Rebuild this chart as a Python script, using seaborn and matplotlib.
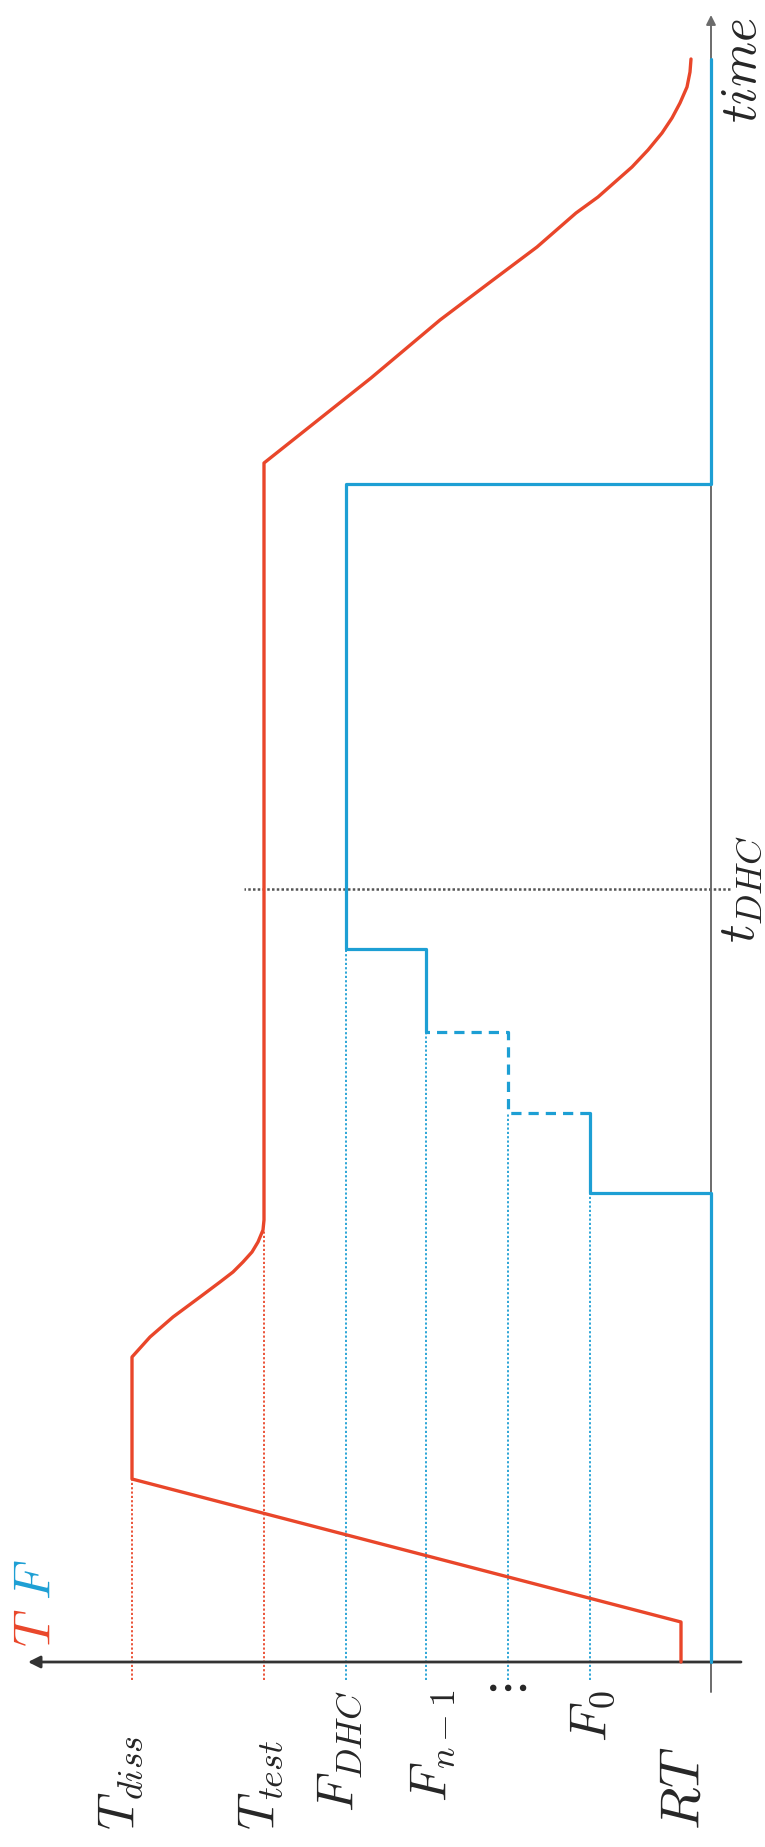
import numpy as np
import matplotlib
matplotlib.use("Agg")
import matplotlib.pyplot as plt
import seaborn as sns

#%% Daten (Zeit nach oben, Wert T/F nach links; Einheiten ~ Pixel der Vorlage)

# Niveaus auf der T/F-Achse
lvl_names = ["RT", "F0", "Fdots", "Fn1", "FDHC", "Ttest", "Tdiss"]
lvl_vals = [30, 121, 203, 285, 365, 447, 579]

# Temperaturverlauf T(t)
T_time = [0, 40, 183, 305, 325, 345, 365, 380, 390, 400, 410, 420, 432, 442,
          1199, 1284, 1342, 1379, 1415, 1449, 1465, 1480, 1495, 1512, 1529,
          1544, 1559, 1575, 1590, 1603]
T_val = [30, 30, 579, 579, 561, 538, 511, 491, 478, 468, 459, 453, 448, 447,
         447, 340, 271, 222, 174, 135, 113, 96, 79, 63, 49,
         39, 31, 24, 21, 20]

# Lastverlauf F(t): durchgezogen bis F0, gestrichelt bis F_{n-1}, dann wieder durchgezogen
F1_time = [0, 469, 469, 549]
F1_val = [0, 0, 121, 121]
Fd_time = [549, 549, 630, 630]
Fd_val = [121, 203, 203, 285]
F2_time = [630, 713, 713, 1178, 1178, 1603]
F2_val = [285, 285, 365, 365, 0, 0]

# gepunktete Hilfslinien: Niveau und Zeitpunkt, an dem die Kurve es erreicht
guide_vals = [579, 447, 365, 285, 203, 121]
guide_top = [183, 432, 713, 630, 549, 469]
guide_col = ["red", "red", "blue", "blue", "blue", "blue"]

t_DHC = 773
t_end = 1647
v_end = 683

#%% Stil

sns.set_theme(style="white")
plt.rcParams["mathtext.fontset"] = "cm"
plt.rcParams["font.family"] = ["DejaVu Serif", "DejaVu Sans"]

c_red = "#E9462A"
c_blue = "#1D9FD4"
c_axis = "#333333"
c_grey = "#6b6b6b"

fig = plt.figure(figsize=(7.65, 18.47), dpi=100)
ax = fig.add_axes([0, 0, 1, 1])
ax.set_xlim(711, -54)
ax.set_ylim(-185, 1662)
ax.axis("off")

# Hilfslinien
for v, top, col in zip(guide_vals, guide_top, guide_col):
    ax.vlines(v, -18, top, colors=c_red if col == "red" else c_blue,
              linestyles=(0, (1.2, 1.2)), lw=1.3, zorder=1)
ax.hlines(t_DHC, -19, 467, colors="#555555", linestyles=(0, (1, 0.9)), lw=1.8, zorder=1)

# Achsen
ax.annotate("", xy=(0, t_end), xytext=(0, -30),
            arrowprops=dict(arrowstyle="-|>", color=c_grey, lw=1.4,
                            mutation_scale=14, shrinkA=0, shrinkB=0), zorder=2)
ax.annotate("", xy=(v_end, 0), xytext=(-30, 0),
            arrowprops=dict(arrowstyle="-|>", color=c_axis, lw=2.0,
                            mutation_scale=18, shrinkA=0, shrinkB=0), zorder=2)

# Kurven
for tt, vv in [(F1_time, F1_val), (F2_time, F2_val)]:
    sns.lineplot(x=vv, y=tt, orient="y", sort=False, estimator=None,
                 color=c_blue, lw=2.3, ax=ax, zorder=4)
sns.lineplot(x=Fd_val, y=Fd_time, orient="y", sort=False, estimator=None,
             color=c_blue, lw=2.3, ls=(0, (3.2, 2.2)), ax=ax, zorder=4)
sns.lineplot(x=T_val, y=T_time, orient="y", sort=False, estimator=None,
             color=c_red, lw=2.4, ax=ax, zorder=5)

#%% Beschriftungen
fs = 37
ax.text(589, -168, r"$T_{diss}$", rotation=90, ha="center", va="bottom", fontsize=fs)
ax.text(449, -168, r"$T_{test}$", rotation=90, ha="center", va="bottom", fontsize=fs)
ax.text(27, -168, r"$RT$", rotation=90, ha="center", va="bottom", fontsize=fs + 3)
ax.text(371, -28, r"$F_{DHC}$", rotation=90, ha="center", va="top", fontsize=fs)
ax.text(277, -28, r"$F_{n-1}$", rotation=90, ha="center", va="top", fontsize=fs)
ax.text(118, -28, r"$F_0$", rotation=90, ha="center", va="top", fontsize=fs)
ax.text(203, -30, r"$\vdots$", rotation=90, ha="center", va="center", fontsize=fs)
ax.text(-4, t_DHC, r"$t_{DHC}$", rotation=90, ha="left", va="center", fontsize=fs)
ax.text(-7, 1592, r"$time$", rotation=90, ha="left", va="center", fontsize=fs)
ax.text(699, 34, r"$T$", rotation=90, ha="left", va="center", fontsize=fs, color=c_red)
ax.text(699, 82, r"$F$", rotation=90, ha="left", va="center", fontsize=fs, color=c_blue)

fig.savefig("out.png", dpi=100, facecolor="white")
